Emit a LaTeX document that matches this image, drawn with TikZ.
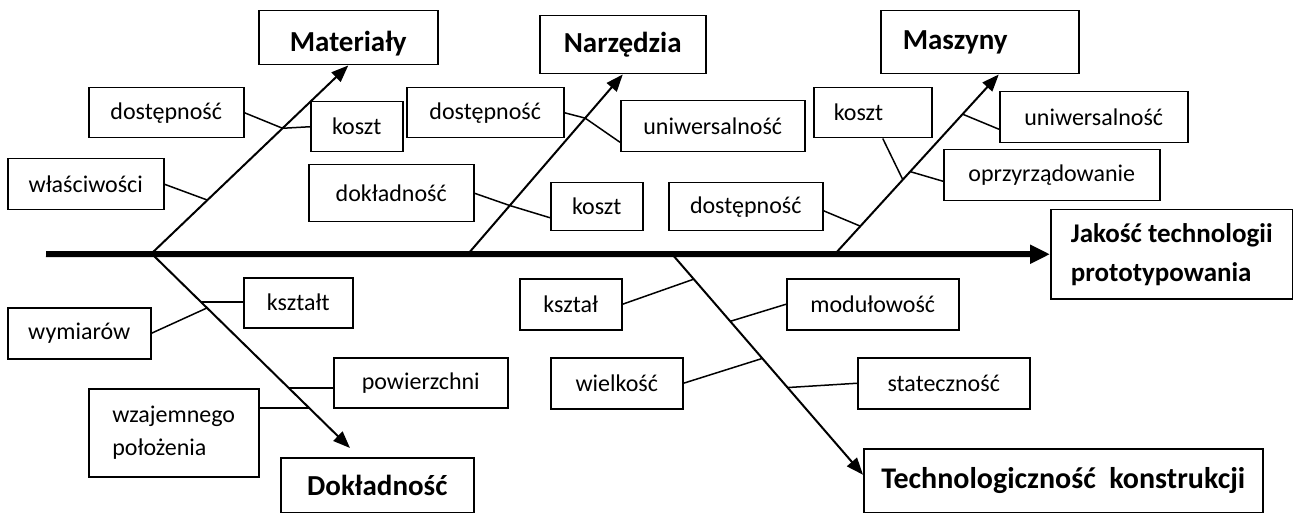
\documentclass[tikz,border=0pt]{standalone}
\usepackage{fontspec}
\setmainfont{Carlito}
\usetikzlibrary{arrows.meta,calc}

\begin{document}
\begin{tikzpicture}[x=1pt,y=-1pt,
        box/.style={draw,line width=1.5pt,anchor=north west,inner sep=0pt,font=\fontsize{24}{33}\selectfont},
        head/.style={box,font=\fontsize{29}{39}\selectfont\bfseries},
        spine/.style={line width=6pt,-{Triangle[length=20pt,width=18pt]}},
        bone/.style={line width=2pt,-{Triangle[length=17pt,width=13pt]}},
        twig/.style={line width=1.5pt}]
        \useasboundingbox (0,0) rectangle (1293,513);

        \node[head,minimum width=179pt,minimum height=54pt,text height=32pt] (mat) at (258,10) {Materiały};
        \node[head,minimum width=166pt,minimum height=58pt] (nar) at (539,15) {Narzędzia};
        \node[head,text width=154pt,inner xsep=22pt,align=left,minimum height=63pt] (masz) at (880,10) {Maszyny};
        \node[head,font=\fontsize{27}{39}\selectfont\bfseries,align=left,minimum width=242pt,minimum height=89pt] (jak) at (1050,209) {Jakość technologii\\prototypowania};
        \node[head,minimum width=193pt,minimum height=55pt] (dok) at (280,457) {Dokładność};
        \node[head,font=\fontsize{30}{39}\selectfont\bfseries,minimum width=399pt,minimum height=64pt] (tech) at (863,448) {Technologiczność\ \ konstrukcji};

        \node[box,minimum width=155pt,minimum height=50pt] (dos1) at (88,87) {dostępność};
        \node[box,minimum width=92pt,minimum height=50pt] (kos1) at (310,101) {koszt};
        \node[box,minimum width=156pt,minimum height=51pt] (wla) at (7,158) {właściwości};
        \node[box,minimum width=157pt,minimum height=50pt] (dos2) at (406,87) {dostępność};
        \node[box,minimum width=184pt,minimum height=51pt] (uni1) at (620,100) {uniwersalność};
        \node[box,minimum width=165pt,minimum height=57pt] (dok1) at (308,164) {dokładność};
        \node[box,minimum width=92pt,minimum height=48pt] (kos2) at (550,182) {koszt};
        \node[box,text width=78pt,inner xsep=20pt,align=left,minimum height=50pt] (kos3) at (813,87) {koszt};
        \node[box,minimum width=188pt,minimum height=51pt] (uni2) at (999,91) {uniwersalność};
        \node[box,minimum width=216pt,minimum height=51pt] (opr) at (943,149) {oprzyrządowanie};
        \node[box,minimum width=154pt,minimum height=48pt] (dos3) at (668,182) {dostępność};

        \node[box,minimum width=109pt,minimum height=50pt] (ksz) at (243,277) {kształt};
        \node[box,minimum width=143pt,minimum height=51pt] (wym) at (7,307) {wymiarów};
        \node[box,minimum width=174pt,minimum height=50pt] (pow) at (333,357) {powierzchni};
        \node[box,align=left,minimum width=170pt,minimum height=88pt] (wza) at (88,388) {wzajemnego\\położenia};
        \node[box,minimum width=102pt,minimum height=51pt] (ksz2) at (519,278) {kształ};
        \node[box,minimum width=172pt,minimum height=51pt] (mod) at (786,278) {modułowość};
        \node[box,minimum width=132pt,minimum height=51pt] (wie) at (550,357) {wielkość};
        \node[box,minimum width=172pt,minimum height=51pt] (sta) at (857,357) {stateczność};

        \coordinate (tail) at (46,254);
        \coordinate (mS) at (151,254);
        \coordinate (nS) at (468,254);
        \coordinate (zS) at (835,254);
        \coordinate (dS) at (152,254);
        \coordinate (tS) at (672,254);
        \coordinate (zT) at ([xshift=19pt]masz.south);
        \coordinate (dT) at (350,448);
        \coordinate (tT) at ([yshift=6pt]tech.west);

        \draw[spine] (tail) -- (jak.west);
        \draw[bone] (mS) -- (mat.south);
        \draw[bone] (nS) -- (nar.south);
        \draw[bone] (zS) -- (zT);
        \draw[bone] (dS) -- (dT);
        \draw[bone] (tS) -- (tT);

        \coordinate (jm1) at ($(mS)!0.667!(mat.south)$);
        \coordinate (jm2) at ($(mS)!0.286!(mat.south)$);
        \coordinate (jn1) at ($(nS)!0.757!(nar.south)$);
        \coordinate (jn2) at ($(nS)!0.27!(nar.south)$);
        \coordinate (jz1) at ($(zS)!0.414!(zT)$);
        \coordinate (jz2) at ($(zS)!0.459!(zT)$);
        \coordinate (jz3) at ($(zS)!0.779!(zT)$);
        \coordinate (jz4) at ($(zS)!0.155!(zT)$);
        \coordinate (jd1) at ($(dS)!0.247!(dT)$);
        \coordinate (jd2) at ($(dS)!0.278!(dT)$);
        \coordinate (jd3) at ($(dS)!0.691!(dT)$);
        \coordinate (jd4) at ($(dS)!0.794!(dT)$);
        \coordinate (jt1) at ($(tS)!0.114!(tT)$);
        \coordinate (jt2) at ($(tS)!0.305!(tT)$);
        \coordinate (jt3) at ($(tS)!0.473!(tT)$);
        \coordinate (jt4) at ($(tS)!0.605!(tT)$);

        \draw[twig] (dos1.east) -- (jm1) -- (kos1.west);
        \draw[twig] (wla.east) -- (jm2);
        \draw[twig] (dos2.east) -- (jn1) -- ([yshift=-16pt]uni1.west);
        \draw[twig] (dok1.east) -- (jn2) -- ([yshift=-11pt]kos2.west);
        \draw[twig] ([xshift=10pt]kos3.south) -- (jz1);
        \draw[twig] ([yshift=-6pt]opr.west) -- (jz2);
        \draw[twig] ([yshift=-12pt]uni2.west) -- (jz3);
        \draw[twig] ([yshift=-4pt]dos3.east) -- (jz4);
        \draw[twig] (jd1 -| ksz.west) -- (jd1);
        \draw[twig] (wym.east) -- (jd2);
        \draw[twig] (jd3 -| pow.west) -- (jd3);
        \draw[twig] (jd4 -| wza.east) -- (jd4);
        \draw[twig] (ksz2.east) -- (jt1);
        \draw[twig] (mod.west) -- (jt2);
        \draw[twig] (wie.east) -- (jt3);
        \draw[twig] (sta.west) -- (jt4);
    \end{tikzpicture}
\end{document}
